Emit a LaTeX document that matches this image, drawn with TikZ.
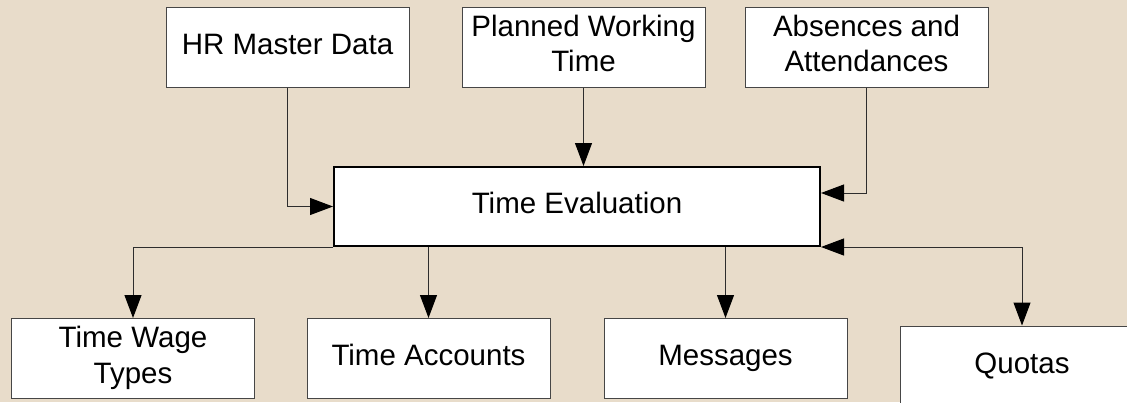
\documentclass[tikz,border=0pt]{standalone}
\usepackage{fontspec}
\setmainfont{Liberation Sans}
\usetikzlibrary{arrows.meta}
\definecolor{bg}{RGB}{232,220,202}
\definecolor{edgegray}{RGB}{70,70,70}
\definecolor{linegray}{RGB}{45,45,45}
\begin{document}
\begin{tikzpicture}[x=1pt,y=-1pt,
  >={Triangle[length=23pt,width=17pt,color=black,fill=black]},
  box/.style={draw=edgegray, line width=1pt, fill=white, minimum width=243pt, minimum height=80pt,
              inner sep=0pt, align=center, font=\fontsize{29.5}{35.5}\selectfont},
  mainbox/.style={box, draw=black, line width=2pt, minimum width=486pt, minimum height=79pt},
  conn/.style={draw=linegray, line width=1pt, ->}]
\fill[bg] (0,0) rectangle (1127,402);
\useasboundingbox (0,0) rectangle (1127,402);
\clip (0,0) rectangle (1127,402);
\node[box] (hr) at (287.5,47) {\strut HR Master Data};
\node[box] (pwt) at (583.5,47) {\strut Planned Working\\\strut Time};
\node[box] (abs) at (866.5,47) {\strut Absences and\\\strut Attendances};
\node[mainbox] (te) at (577,206.5) {\strut Time Evaluation};
\node[box] (twt) at (133,358.5) {\strut Time Wage\\\strut Types};
\node[box] (ta) at (428.5,358.5) {\strut Time Accounts};
\node[box] (msg) at (725.5,358.5) {\strut Messages};
\node[box] (quo) at (1022,366) {\strut Quotas};
\draw[conn] (hr.south) |- (te.west);
\draw[conn] (pwt.south) -- (pwt.south |- te.north);
\draw[conn] (abs.south) |- ([yshift=13.5pt]te.east);
\draw[conn] (te.south west) -| (twt.north);
\draw[conn] (ta.north |- te.south) -- (ta.north);
\draw[conn] (msg.north |- te.south) -- (msg.north);
\draw[conn, <->] (te.south east) -| (quo.north);
\end{tikzpicture}
\end{document}
